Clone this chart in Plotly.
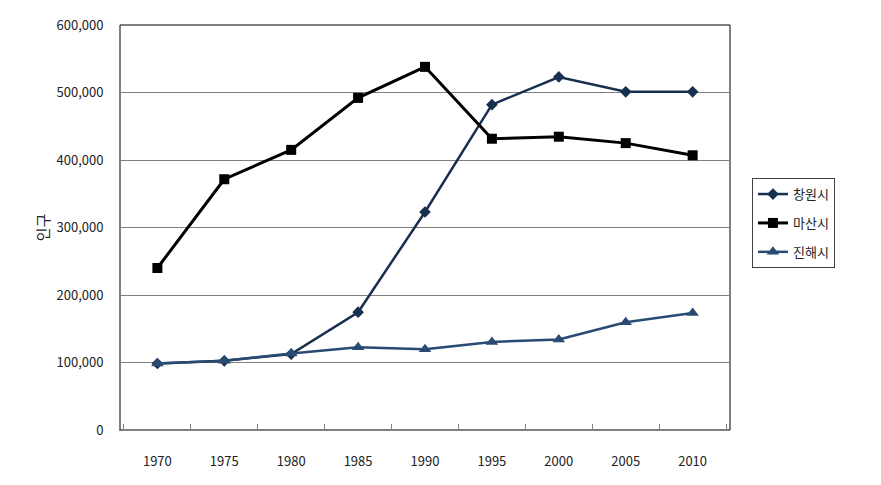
import plotly.graph_objects as go

years = ["1970", "1975", "1980", "1985", "1990", "1995", "2000", "2005", "2010"]
changwon = [98500, 102500, 112500, 174500, 323000, 482000, 523000, 501000, 501000]
masan = [240000, 371500, 415000, 492000, 538000, 431500, 434500, 425000, 407000]
jinhae = [98500, 102500, 113500, 122500, 119500, 130500, 134000, 159500, 173500]
y_ticks = [0, 100000, 200000, 300000, 400000, 500000, 600000]
y_labels = ["0", "100,000", "200,000", "300,000", "400,000", "500,000", "600,000"]

FONT = "Noto Sans CJK KR"

fig = go.Figure()
fig.add_trace(go.Scatter(
    x=years, y=changwon, name="창원시", mode="lines+markers", legendgroup="a",
    line=dict(color="#17304F", width=2.5),
    marker=dict(symbol="diamond", size=9, color="#17304F"),
))
fig.add_trace(go.Scatter(
    x=years, y=masan, name="마산시", mode="lines+markers", legendgroup="b",
    line=dict(color="#000000", width=3),
    marker=dict(symbol="square", size=10, color="#000000"),
))
fig.add_trace(go.Scatter(
    x=years, y=jinhae, name="진해시", mode="lines+markers", legendgroup="c",
    line=dict(color="#284A73", width=2.5),
    marker=dict(symbol="triangle-up", size=11, color="#284A73"),
))

fig.update_layout(
    width=881, height=485,
    margin=dict(l=120, r=151, t=25, b=55),
    paper_bgcolor="white", plot_bgcolor="white",
    font=dict(family=FONT, size=12, color="#333333"),
    showlegend=True,
    legend=dict(
        x=1.036, y=0.622, xanchor="left", yanchor="top",
        bordercolor="#404040", borderwidth=1,
        font=dict(family=FONT, size=13, color="#222222"),
        tracegroupgap=9, itemwidth=30,
    ),
    xaxis=dict(
        type="category", tickson="boundaries",
        showline=True, linecolor="#808080", linewidth=1,
        ticks="inside", ticklen=6, tickcolor="#808080",
        showgrid=False, ticklabelstandoff=19,
        tickfont=dict(family=FONT, size=13, color="#222222"),
    ),
    yaxis=dict(
        range=[0, 600000], tickvals=y_ticks, ticktext=y_labels,
        showline=True, linecolor="#808080", linewidth=1,
        showgrid=True, gridcolor="#808080", gridwidth=1,
        zeroline=False, ticks="", ticklabelstandoff=13,
        tickfont=dict(family=FONT, size=13, color="#222222"),
        title=dict(text="인구", standoff=3, font=dict(family=FONT, size=15, color="#222222")),
    ),
    shapes=[dict(type="rect", xref="paper", yref="paper", x0=0, x1=1, y0=0, y1=1,
                 line=dict(color="#000000", width=1), layer="below")],
)

fig.write_html("out.html")
